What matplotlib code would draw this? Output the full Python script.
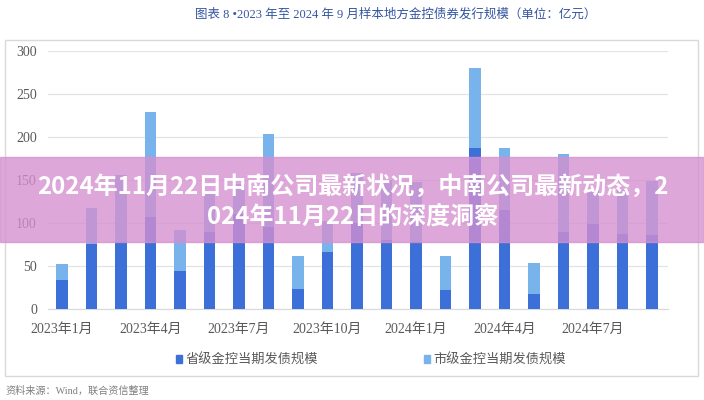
import matplotlib.pyplot as plt
from matplotlib.patches import Rectangle, Patch

plt.rcParams['font.family'] = ['Liberation Serif', 'Noto Sans CJK SC']

# 月份 2023-01 .. 2024-09
months = ['2023-01', '2023-02', '2023-03', '2023-04', '2023-05', '2023-06', '2023-07',
          '2023-08', '2023-09', '2023-10', '2023-11', '2023-12', '2024-01', '2024-02',
          '2024-03', '2024-04', '2024-05', '2024-06', '2024-07', '2024-08', '2024-09']
tick_labels = ['2023年1月', '2023年4月', '2023年7月', '2023年10月',
               '2024年1月', '2024年4月', '2024年7月']
# 省级 (底部) 与 总量
provincial = [34, 76, 78, 107, 44, 89, 110, 95, 23, 66, 100, 80, 78, 22,
              187, 115, 18, 90, 99, 87, 86]
total = [52, 117, 156, 229, 92, 136, 145, 204, 62, 102, 158, 150, 148, 62,
         280, 187, 53, 180, 138, 138, 149]
municipal = [t - p for t, p in zip(total, provincial)]

dark = '#3D6FD9'
light = '#78B3EB'

fig = plt.figure(figsize=(7.04, 4), dpi=100)

# 外框
fig.patches.append(Rectangle((5 / 704, 1 - 376 / 400), 693 / 704, 336 / 400,
                             transform=fig.transFigure, fill=False,
                             edgecolor='#d9d9d9', lw=1))

ax = fig.add_axes([48 / 704, 1 - 309 / 400, 620 / 704, 258 / 400])
x = list(range(len(months)))
ax.bar(x, provincial, width=0.39, color=dark, zorder=3)
ax.bar(x, municipal, width=0.39, bottom=provincial, color=light, zorder=3)

ax.set_xlim(-0.47, 20.54)
ax.set_ylim(0, 300)
ax.set_yticks(range(0, 301, 50))
ax.set_xticks(range(0, 21, 3))
ax.set_xticklabels(tick_labels)
ax.grid(axis='y', color='#e3e3e3', lw=0.9, zorder=0)
for s in ['top', 'right', 'left']:
    ax.spines[s].set_visible(False)
ax.spines['bottom'].set_color('#d9d9d9')
ax.tick_params(length=0, labelsize=10, colors='#595959', pad=8)
ax.tick_params(axis='x', pad=10)

ax.legend(handles=[Patch(color=dark, label='省级金控当期发债规模'),
                   Patch(color=light, label='市级金控当期发债规模')],
          loc='center', bbox_to_anchor=(371 / 704, 1 - 360 / 400), bbox_transform=fig.transFigure,
          ncol=2, frameon=False, handlelength=0.5, handleheight=0.6, handletextpad=0.25,
          columnspacing=8, labelcolor='#595959', fontsize=9.5)

fig.text(396 / 704, 1 - 14 / 400, '图表 8 •2023 年至 2024 年 9 月样本地方金控债券发行规模（单位：亿元）',
         ha='center', va='center', color='#34559e', fontsize=9)
fig.text(5 / 704, 1 - 391 / 400, '资料来源：Wind，联合资信整理',
         ha='left', va='center', color='#7f7f7f', fontsize=7.3)

# 横幅
fig.patches.append(Rectangle((0, 1 - 242 / 400), 1, 85 / 400, transform=fig.transFigure,
                             color='#d58fcf', alpha=0.78, zorder=10))
fig.text(353 / 704, 1 - 187 / 400, '2024年11月22日中南公司最新状况，中南公司最新动态，2',
         ha='center', va='center', color='white', fontsize=17.3, fontweight='bold',
         family=['Noto Sans CJK SC'], zorder=11)
fig.text(353 / 704, 1 - 217 / 400, '024年11月22日的深度洞察',
         ha='center', va='center', color='white', fontsize=17.3, fontweight='bold',
         family=['Noto Sans CJK SC'], zorder=11)

fig.savefig('out.png', dpi=100)
